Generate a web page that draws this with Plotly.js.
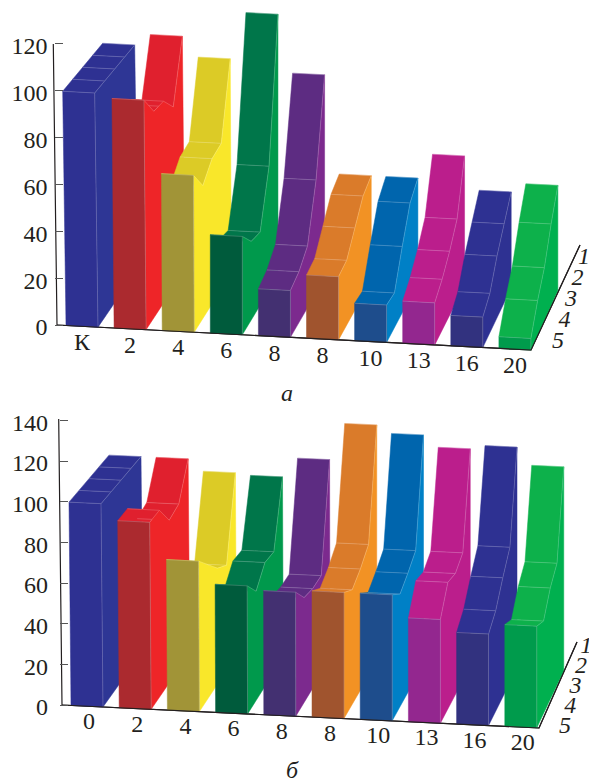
<!DOCTYPE html>
<html><head><meta charset="utf-8">
<script src="https://cdn.plot.ly/plotly-3.0.1.min.js"></script>
<style>html,body{margin:0;padding:0;background:#fff}#c{width:589px;height:778px}</style>
</head><body><div id="c"></div>
<script>
// ---------- data ----------
const categoriesA = ['К','2','4','6','8','8','10','13','16','20'];
const categoriesB = ['0','2','4','6','8','8','10','13','16','20'];
const depthLabels = ['5','4','3','2','1'];
const yTicksA = [0,20,40,60,80,100,120];
const yTicksB = [0,20,40,60,80,100,120,140];

const a_row5 = [100,98,67,42,20,27,16,18,13,5];
const a_row4 = [100,88,57,34,22,28,15,22,17,15];
const a_row3 = [100,87,63,32,27,36,29,28,27,23];
const a_row2 = [100,79,64,55,50,44,42,36,35,36];
const a_row1 = [100,105,96,117,91,47,47,58,43,47];

const b_row5 = [100,92,74,63,61,62,62,51,45,50];
const b_row4 = [100,92,66,54,52,57,56,63,50,46];
const b_row3 = [100,81,58,62,50,61,60,61,60,56];
const b_row2 = [100,83,53,61,50,67,65,65,69,62];
const b_row1 = [100,100,94,93,103,122,118,112,114,105];

const frontColors = ['#2e3192','#ab2a2f','#a19437','#005b3c','#433071','#a0542e','#1e4d8c','#93278f','#32327f','#009b4c'];
const topColors   = ['#2e3192','#e0202e','#dccb26','#00764a','#5d2c82','#da7b2a','#0065ad','#bb1e8c','#2e3192','#0db14b'];
const sideColors  = ['#2e3695','#ee2528','#f9e72a','#00994c','#7c2a8e','#f29224','#0080c6','#bb1e8c','#2e3192','#00b04f'];

// ---------- projection settings (pixels) ----------
const panelA = {rows:[a_row5,a_row4,a_row3,a_row2,a_row1], cats:categoriesA, yref:'y', ticks:yTicksA,
  ox:57, oy:325, slope:.053, s:2.342, left:66, step:48.1, w:32, vy:-975, fy:.045, tilt:3.3, tiltN:3,
  axisTop:[53.3,44], depthEnd:[580,245], end:[531,350], labelDy:18, labelDx:0, standoff:6,
  dl0:[558,342], dlStep:[6.5,-21], top:0, bottom:400, pos:53.5, name:'а', nameXY:[287,393]};
const panelB = {rows:[b_row5,b_row4,b_row3,b_row2,b_row1], cats:categoriesB, yref:'y2', ticks:yTicksB,
  ox:62, oy:705, slope:.048, s:2.033, left:71, step:48.2, w:32, vy:-566, fy:.044, tilt:2, tiltN:5,
  axisTop:[58.7,419], depthEnd:[577,642], end:[539,728], labelDy:17, labelDx:2, standoff:11,
  dl0:[565,727], dlStep:[5.3,-20], top:400, bottom:778, pos:59, name:'б', nameXY:[292,770]};

const traces = [];
const FONT = 'Liberation Serif', TXT = '#231f20', SIZE = 24;

function val(P, py){ return (P.oy - py) / P.s; }
function pt(P, i, edge, k, h){
  const u = P.left + P.step*i + edge*P.w;
  const t = Math.max(0, P.tilt*(1 - i/P.tiltN));
  const x0 = u - t*h/100;
  const y0 = P.oy + P.slope*(u - P.ox) - P.s*h;
  const d = k/4;
  return [x0 + (40 - 1.45*i)*d, val(P, y0 + (P.vy - y0)*P.fy*d)];
}
function poly(P, pts, color){
  traces.push({type:'scatter', mode:'lines', xaxis:'x', yaxis:P.yref, hoverinfo:'skip', showlegend:false,
    x:pts.map(p=>p[0]).concat(pts[0][0]), y:pts.map(p=>p[1]).concat(pts[0][1]),
    fill:'toself', fillcolor:color, line:{width:.5, color:color}});
}
function lines(P, pts, color, width){
  traces.push({type:'scatter', mode:'lines', xaxis:'x', yaxis:P.yref, hoverinfo:'skip', showlegend:false,
    x:pts.map(p=>p?p[0]:null), y:pts.map(p=>p?p[1]:null), connectgaps:false,
    line:{width:width||.6, color:color||'rgba(255,255,255,.32)'}});
}
function drawPanel(P){
  lines(P, [[P.axisTop[0], val(P,P.axisTop[1])],[P.ox, 0],[P.end[0], val(P,P.end[1])],[P.depthEnd[0], val(P,P.depthEnd[1])]], '#231f20', 1.2);
  P.cats.forEach((c,i)=>{
    const h = P.rows.map(r=>r[i]);
    const cross = [];
    for(let k=3;k>=0;k--){
      poly(P,[pt(P,i,0,k,h[k]),pt(P,i,1,k,h[k]),pt(P,i,1,k+1,h[k+1]),pt(P,i,0,k+1,h[k+1])], topColors[i]);
      cross.push(pt(P,i,0,k+1,h[k+1]),pt(P,i,1,k+1,h[k+1]),null);
    }
    lines(P, cross);
    const edge = h.map((v,k)=>pt(P,i,1,k,v));
    const foot = h.map((v,k)=>pt(P,i,1,k,0)).reverse();
    poly(P, edge.concat(foot), sideColors[i]);
    lines(P, edge);
    poly(P,[pt(P,i,0,0,h[0]),pt(P,i,1,0,h[0]),pt(P,i,1,0,0),pt(P,i,0,0,0)], frontColors[i]);
    lines(P,[pt(P,i,0,0,h[0]),pt(P,i,1,0,h[0]),pt(P,i,1,0,0)]);
  });
  lines(P, [[P.ox,0],[P.end[0], val(P,P.end[1])],[P.depthEnd[0], val(P,P.depthEnd[1])]], '#231f20', 1.2);
  const cx = P.cats.map((c,i)=>P.left+P.step*i+P.w/2+P.labelDx);
  traces.push({type:'scatter', mode:'text', xaxis:'x', yaxis:P.yref, hoverinfo:'skip', showlegend:false,
    x:cx, y:cx.map(x=>val(P, P.oy+P.slope*(x-P.ox)+P.labelDy)), text:P.cats,
    textposition:'middle center', textfont:{family:FONT,size:SIZE,color:TXT}, cliponaxis:false});
  traces.push({type:'scatter', mode:'text', xaxis:'x', yaxis:P.yref, hoverinfo:'skip', showlegend:false,
    x:depthLabels.map((d,j)=>P.dl0[0]+P.dlStep[0]*j), y:depthLabels.map((d,j)=>val(P,P.dl0[1]+P.dlStep[1]*j)),
    text:depthLabels, textposition:'middle center',
    textfont:{family:FONT,size:SIZE,color:TXT,style:'italic'}, cliponaxis:false});
}
drawPanel(panelA); drawPanel(panelB);

const H = 778, W = 589;
function yAxis(P){
  return {domain:[1-P.bottom/H, 1-P.top/H], range:[val(P,P.bottom), val(P,P.top)],
    anchor:'free', position:P.pos/W, side:'left', showgrid:false, zeroline:false, showline:false,
    tickmode:'array', tickvals:P.ticks, ticktext:P.ticks.map(String), ticks:'inside', ticklen:8, tickwidth:1, tickcolor:'#555',
    ticklabelstandoff:P.standoff, ticklabelshift:2, tickfont:{family:FONT,size:SIZE,color:TXT}};
}
const layout = {
  width:W, height:H, margin:{l:0,r:0,t:0,b:0}, paper_bgcolor:'#fff', plot_bgcolor:'rgba(0,0,0,0)', showlegend:false,
  xaxis:{domain:[0,1], range:[0,W], visible:false, fixedrange:true},
  yaxis:yAxis(panelA),
  yaxis2:yAxis(panelB),
  annotations:[panelA,panelB].map(P=>({xref:'paper',yref:'paper',x:P.nameXY[0]/W,y:1-P.nameXY[1]/H,
    text:'<i>'+P.name+'</i>',showarrow:false,xanchor:'center',yanchor:'middle',
    font:{family:FONT,size:SIZE,color:TXT}}))
};
Plotly.newPlot('c', traces, layout, {displayModeBar:false, staticPlot:true});
</script></body></html>
